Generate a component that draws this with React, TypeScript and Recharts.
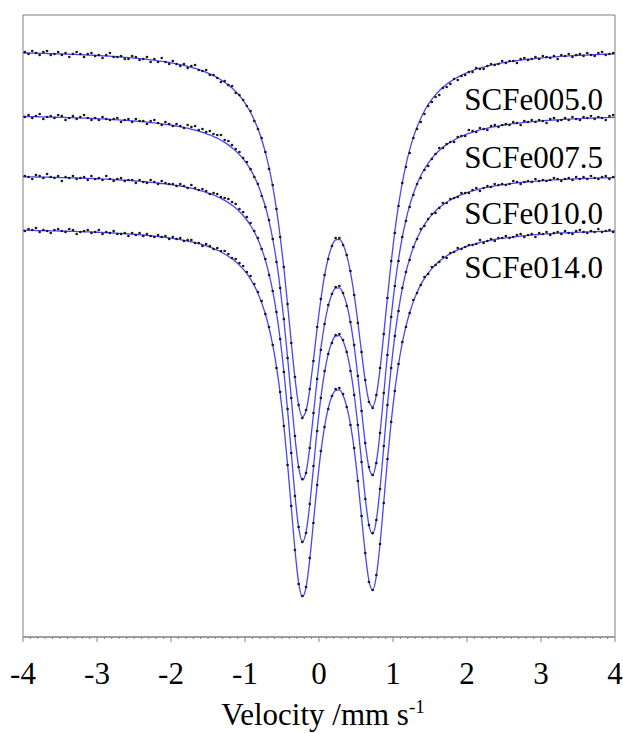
import React from "react";
import {
  ComposedChart,
  Line,
  Scatter,
  XAxis,
  YAxis,
  ReferenceArea,
  Customized,
} from "recharts";

// Mössbauer spectra, stacked with offsets (arbitrary transmission units)
const SAMPLE_NAMES = ["SCFe005.0", "SCFe007.5", "SCFe010.0", "SCFe014.0"];

const MAJOR_TICKS = [-4, -3, -2, -1, 0, 1, 2, 3, 4];
const TICK_LABELS = ["-4", "-3", "-2", "-1", "0", "1", "2", "3", "4"];

// channel velocities (mm/s)
const CHANNEL_VELOCITY = [
  -3.975, -3.925, -3.875, -3.825, -3.775, -3.725, -3.675, -3.625, -3.575, -3.525,
  -3.475, -3.425, -3.375, -3.325, -3.275, -3.225, -3.175, -3.125, -3.075, -3.025,
  -2.975, -2.925, -2.875, -2.825, -2.775, -2.725, -2.675, -2.625, -2.575, -2.525,
  -2.475, -2.425, -2.375, -2.325, -2.275, -2.225, -2.175, -2.125, -2.075, -2.025,
  -1.975, -1.925, -1.875, -1.825, -1.775, -1.725, -1.675, -1.625, -1.575, -1.525,
  -1.475, -1.425, -1.375, -1.325, -1.275, -1.225, -1.175, -1.125, -1.075, -1.025,
  -0.975, -0.925, -0.875, -0.825, -0.775, -0.725, -0.675, -0.625, -0.575, -0.525,
  -0.475, -0.425, -0.375, -0.325, -0.275, -0.225, -0.175, -0.125, -0.075, -0.025,
  0.025, 0.075, 0.125, 0.175, 0.225, 0.275, 0.325, 0.375, 0.425, 0.475,
  0.525, 0.575, 0.625, 0.675, 0.725, 0.775, 0.825, 0.875, 0.925, 0.975,
  1.025, 1.075, 1.125, 1.175, 1.225, 1.275, 1.325, 1.375, 1.425, 1.475,
  1.525, 1.575, 1.625, 1.675, 1.725, 1.775, 1.825, 1.875, 1.925, 1.975,
  2.025, 2.075, 2.125, 2.175, 2.225, 2.275, 2.325, 2.375, 2.425, 2.475,
  2.525, 2.575, 2.625, 2.675, 2.725, 2.775, 2.825, 2.875, 2.925, 2.975,
  3.025, 3.075, 3.125, 3.175, 3.225, 3.275, 3.325, 3.375, 3.425, 3.475,
  3.525, 3.575, 3.625, 3.675, 3.725, 3.775, 3.825, 3.875, 3.925, 3.975,
];

// the fitted curves also run to the frame edges
const FIT_VELOCITY = [-4, ...CHANNEL_VELOCITY, 4];

// ---- SCFe005.0 ----
const FIT_005 = [
  58.41,
  58.40, 58.40, 58.39, 58.38, 58.37, 58.36, 58.35, 58.34, 58.33, 58.31,
  58.30, 58.29, 58.28, 58.26, 58.25, 58.24, 58.22, 58.20, 58.18, 58.16,
  58.15, 58.12, 58.10, 58.08, 58.05, 58.03, 58.00, 57.97, 57.94, 57.92,
  57.88, 57.84, 57.80, 57.76, 57.72, 57.68, 57.62, 57.57, 57.52, 57.46,
  57.39, 57.32, 57.24, 57.16, 57.07, 56.97, 56.87, 56.75, 56.61, 56.47,
  56.31, 56.13, 55.95, 55.72, 55.48, 55.21, 54.90, 54.53, 54.13, 53.66,
  53.10, 52.46, 51.71, 50.82, 49.75, 48.47, 46.93, 45.06, 42.80, 40.09,
  36.90, 33.30, 29.48, 25.90, 23.20, 22.03, 22.63, 24.75, 27.71, 30.88,
  33.75, 36.13, 37.92, 39.11, 39.71, 39.76, 39.25, 38.17, 36.49, 34.23,
  31.48, 28.46, 25.62, 23.59, 23.03, 24.18, 26.81, 30.28, 33.99, 37.48,
  40.58, 43.21, 45.40, 47.22, 48.72, 49.96, 51.00, 51.86, 52.60, 53.23,
  53.76, 54.22, 54.62, 54.97, 55.27, 55.54, 55.78, 55.99, 56.18, 56.35,
  56.51, 56.65, 56.78, 56.89, 56.99, 57.09, 57.18, 57.26, 57.34, 57.41,
  57.48, 57.53, 57.59, 57.64, 57.69, 57.73, 57.78, 57.81, 57.85, 57.89,
  57.92, 57.95, 57.98, 58.01, 58.04, 58.06, 58.08, 58.11, 58.13, 58.15,
  58.17, 58.18, 58.20, 58.22, 58.24, 58.25, 58.27, 58.28, 58.30, 58.31,
  58.32,
];
const COUNTS_005 = [
  58.5, 58.3, 58.6, 58.4, 58.2, 58.5, 58.6, 58.2, 58.3, 58.5,
  58.2, 58.4, 58.0, 58.3, 58.5, 58.3, 58.0, 58.3, 58.4, 58.1,
  58.2, 57.9, 58.2, 58.4, 58.0, 58.0, 58.1, 57.8, 57.8, 58.1,
  58.0, 57.7, 57.8, 58.0, 57.5, 57.8, 57.5, 57.9, 57.5, 57.3,
  57.6, 57.3, 57.1, 57.3, 56.9, 57.1, 57.2, 56.7, 56.6, 56.7,
  56.2, 56.2, 55.9, 55.5, 55.6, 55.2, 55.1, 54.4, 54.2, 53.7,
  53.1, 52.6, 51.6, 50.8, 49.9, 48.5, 46.8, 45.2, 42.8, 40.0,
  37.0, 33.3, 29.4, 26.0, 23.2, 21.9, 22.7, 24.8, 27.6, 31.0,
  33.8, 36.2, 37.8, 39.1, 39.9, 39.9, 39.2, 38.2, 36.6, 34.2,
  31.4, 28.5, 25.7, 23.5, 22.9, 24.2, 26.9, 30.3, 33.9, 37.6,
  40.4, 43.1, 45.4, 47.0, 48.4, 49.9, 50.8, 51.5, 52.3, 53.1,
  53.5, 54.0, 54.2, 54.9, 55.0, 55.3, 55.8, 55.7, 56.1, 56.2,
  56.5, 56.5, 56.9, 56.8, 56.8, 57.1, 57.3, 57.2, 57.3, 57.6,
  57.4, 57.6, 57.6, 57.4, 57.8, 57.9, 57.7, 57.8, 58.0, 57.8,
  58.1, 58.0, 57.9, 58.1, 57.8, 58.2, 58.1, 58.3, 58.0, 58.2,
  58.3, 58.1, 58.4, 58.2, 58.1, 58.4, 58.5, 58.2, 58.3, 58.4,
];

// ---- SCFe007.5 ----
const FIT_075 = [
  52.06,
  52.05, 52.04, 52.03, 52.03, 52.02, 52.01, 52.00, 51.99, 51.98, 51.97,
  51.96, 51.95, 51.94, 51.93, 51.91, 51.90, 51.89, 51.88, 51.86, 51.84,
  51.82, 51.81, 51.79, 51.76, 51.74, 51.72, 51.69, 51.67, 51.65, 51.61,
  51.59, 51.56, 51.53, 51.49, 51.45, 51.41, 51.36, 51.32, 51.27, 51.22,
  51.16, 51.09, 51.03, 50.95, 50.88, 50.78, 50.69, 50.58, 50.47, 50.34,
  50.21, 50.05, 49.88, 49.68, 49.46, 49.21, 48.93, 48.61, 48.24, 47.81,
  47.32, 46.73, 46.05, 45.22, 44.23, 43.05, 41.58, 39.80, 37.62, 34.93,
  31.72, 27.98, 23.91, 19.99, 16.99, 15.70, 16.47, 18.94, 22.30, 25.76,
  28.84, 31.30, 33.12, 34.30, 34.89, 34.92, 34.36, 33.23, 31.47, 29.06,
  26.06, 22.67, 19.37, 16.95, 16.20, 17.48, 20.44, 24.31, 28.32, 32.00,
  35.17, 37.80, 39.96, 41.72, 43.16, 44.33, 45.31, 46.12, 46.80, 47.37,
  47.86, 48.29, 48.65, 48.97, 49.24, 49.49, 49.70, 49.90, 50.07, 50.22,
  50.36, 50.48, 50.60, 50.71, 50.79, 50.88, 50.97, 51.03, 51.11, 51.16,
  51.22, 51.28, 51.33, 51.37, 51.42, 51.46, 51.49, 51.53, 51.57, 51.59,
  51.62, 51.65, 51.67, 51.70, 51.72, 51.74, 51.77, 51.79, 51.81, 51.82,
  51.84, 51.86, 51.87, 51.89, 51.90, 51.92, 51.93, 51.94, 51.95, 51.96,
  51.97,
];
const COUNTS_075 = [
  52.0, 52.2, 51.9, 52.1, 52.3, 51.8, 52.0, 52.1, 51.9, 52.2,
  52.1, 51.7, 51.9, 52.1, 51.8, 52.0, 52.2, 51.9, 51.7, 51.9,
  51.7, 52.0, 51.8, 51.7, 51.8, 51.9, 51.5, 51.7, 51.8, 51.5,
  51.8, 51.6, 51.6, 51.3, 51.6, 51.7, 51.4, 51.2, 51.5, 51.3,
  51.1, 51.3, 51.1, 50.9, 51.2, 51.0, 51.1, 50.7, 50.8, 50.5,
  50.6, 50.3, 50.2, 50.2, 49.7, 49.6, 49.2, 48.8, 48.5, 47.9,
  47.5, 46.8, 46.0, 45.3, 44.1, 43.0, 41.7, 39.8, 37.5, 34.9,
  31.8, 27.9, 23.9, 20.1, 17.0, 15.8, 16.4, 18.9, 22.4, 25.8,
  28.7, 31.3, 33.2, 34.3, 35.0, 35.1, 34.4, 33.1, 31.5, 29.2,
  26.1, 22.6, 19.4, 17.0, 16.2, 17.4, 20.4, 24.4, 28.2, 32.0,
  35.1, 37.6, 40.0, 41.6, 43.0, 44.2, 45.3, 45.9, 46.7, 47.1,
  47.8, 48.3, 48.9, 48.9, 49.3, 49.5, 49.5, 50.0, 50.1, 50.1,
  50.7, 50.6, 50.5, 50.9, 50.8, 50.7, 51.1, 51.2, 51.0, 51.2,
  51.3, 51.2, 51.5, 51.4, 51.2, 51.6, 51.5, 51.7, 51.5, 51.7,
  51.6, 51.4, 51.8, 51.9, 51.6, 51.7, 51.9, 51.7, 52.0, 51.8,
  51.7, 52.0, 51.9, 52.1, 51.8, 52.0, 51.9, 51.7, 52.1, 52.2,
];

// ---- SCFe010.0 ----
const FIT_100 = [
  46.03,
  46.02, 46.02, 46.01, 46.00, 45.99, 45.99, 45.98, 45.97, 45.96, 45.95,
  45.94, 45.93, 45.92, 45.91, 45.90, 45.89, 45.87, 45.86, 45.85, 45.83,
  45.81, 45.80, 45.78, 45.76, 45.75, 45.72, 45.70, 45.68, 45.66, 45.63,
  45.60, 45.58, 45.54, 45.51, 45.47, 45.44, 45.40, 45.35, 45.31, 45.26,
  45.21, 45.16, 45.10, 45.03, 44.95, 44.88, 44.79, 44.69, 44.59, 44.47,
  44.34, 44.20, 44.04, 43.86, 43.66, 43.44, 43.18, 42.89, 42.55, 42.15,
  41.70, 41.15, 40.52, 39.74, 38.81, 37.69, 36.29, 34.58, 32.44, 29.80,
  26.57, 22.73, 18.45, 14.22, 10.93, 9.53, 10.46, 13.26, 16.97, 20.70,
  23.93, 26.46, 28.31, 29.50, 30.10, 30.14, 29.61, 28.48, 26.72, 24.25,
  21.13, 17.52, 13.92, 11.19, 10.30, 11.68, 14.90, 19.03, 23.21, 26.96,
  30.13, 32.72, 34.81, 36.48, 37.84, 38.94, 39.85, 40.60, 41.24, 41.77,
  42.21, 42.60, 42.94, 43.22, 43.48, 43.70, 43.89, 44.07, 44.23, 44.37,
  44.49, 44.61, 44.71, 44.81, 44.89, 44.97, 45.05, 45.11, 45.17, 45.22,
  45.27, 45.33, 45.37, 45.41, 45.45, 45.49, 45.51, 45.55, 45.58, 45.61,
  45.64, 45.66, 45.69, 45.71, 45.73, 45.75, 45.77, 45.78, 45.80, 45.82,
  45.83, 45.85, 45.86, 45.87, 45.89, 45.90, 45.91, 45.92, 45.93, 45.95,
  45.96,
];
const COUNTS_100 = [
  46.1, 46.0, 45.8, 46.2, 46.1, 45.9, 46.3, 46.0, 45.9, 46.1,
  45.6, 46.0, 45.9, 46.1, 45.8, 45.9, 46.0, 45.7, 46.1, 45.8,
  45.9, 45.7, 46.1, 45.8, 45.6, 45.8, 45.9, 45.6, 45.7, 45.7,
  45.4, 45.7, 45.5, 45.4, 45.7, 45.5, 45.3, 45.6, 45.4, 45.3,
  45.3, 45.1, 45.3, 45.1, 44.9, 45.2, 44.9, 44.7, 44.8, 44.6,
  44.3, 44.4, 44.3, 44.0, 43.9, 43.8, 43.5, 43.3, 42.8, 42.5,
  42.0, 41.4, 40.6, 39.9, 38.8, 37.8, 36.2, 34.6, 32.5, 29.8,
  26.5, 22.8, 18.4, 14.1, 11.0, 9.5, 10.4, 13.3, 17.1, 20.6,
  23.9, 26.6, 28.3, 29.4, 30.2, 30.3, 29.7, 28.5, 26.6, 24.2,
  21.2, 17.5, 13.8, 11.2, 10.4, 11.7, 14.8, 19.1, 23.2, 26.9,
  30.1, 32.6, 34.9, 36.5, 37.7, 39.0, 39.8, 40.8, 41.1, 41.8,
  42.3, 42.4, 42.9, 43.4, 43.4, 43.8, 43.9, 44.0, 44.4, 44.4,
  44.4, 44.7, 44.9, 44.6, 44.9, 45.1, 45.0, 45.3, 45.2, 45.3,
  45.2, 45.3, 45.6, 45.5, 45.3, 45.5, 45.6, 45.5, 45.8, 45.6,
  45.7, 45.6, 45.7, 45.9, 45.8, 45.6, 45.8, 45.9, 45.7, 46.0,
  45.8, 46.0, 45.8, 46.1, 45.9, 45.8, 46.0, 46.1, 45.8, 46.0,
];

// ---- SCFe014.0 ----
const FIT_140 = [
  40.68,
  40.67, 40.67, 40.66, 40.65, 40.64, 40.64, 40.63, 40.62, 40.61, 40.60,
  40.59, 40.58, 40.57, 40.56, 40.55, 40.54, 40.52, 40.51, 40.50, 40.48,
  40.46, 40.45, 40.43, 40.41, 40.40, 40.37, 40.35, 40.33, 40.31, 40.28,
  40.25, 40.23, 40.19, 40.16, 40.12, 40.09, 40.05, 40.00, 39.96, 39.91,
  39.86, 39.80, 39.74, 39.67, 39.60, 39.52, 39.44, 39.34, 39.24, 39.12,
  38.99, 38.84, 38.68, 38.50, 38.30, 38.08, 37.82, 37.53, 37.19, 36.78,
  36.33, 35.78, 35.14, 34.36, 33.43, 32.30, 30.90, 29.18, 27.03, 24.38,
  21.14, 17.28, 12.99, 8.74, 5.44, 4.03, 4.96, 7.77, 11.50, 15.24,
  18.48, 21.02, 22.88, 24.07, 24.67, 24.71, 24.18, 23.04, 21.26, 18.77,
  15.62, 11.99, 8.36, 5.61, 4.70, 6.09, 9.33, 13.49, 17.70, 21.48,
  24.67, 27.28, 29.38, 31.06, 32.43, 33.54, 34.46, 35.21, 35.86, 36.39,
  36.84, 37.23, 37.57, 37.85, 38.11, 38.34, 38.53, 38.71, 38.87, 39.01,
  39.13, 39.25, 39.35, 39.45, 39.53, 39.61, 39.69, 39.75, 39.82, 39.87,
  39.92, 39.97, 40.01, 40.05, 40.09, 40.13, 40.16, 40.20, 40.23, 40.25,
  40.28, 40.31, 40.33, 40.35, 40.38, 40.40, 40.41, 40.43, 40.45, 40.46,
  40.48, 40.49, 40.51, 40.52, 40.53, 40.55, 40.56, 40.57, 40.58, 40.60,
  40.61,
];
const COUNTS_140 = [
  40.6, 40.8, 40.7, 40.9, 40.5, 40.7, 40.6, 40.4, 40.7, 40.8,
  40.6, 40.5, 40.8, 40.7, 40.3, 40.5, 40.6, 40.7, 40.4, 40.5,
  40.7, 40.3, 40.5, 40.4, 40.6, 40.3, 40.3, 40.4, 40.1, 40.4,
  40.2, 40.4, 40.1, 40.3, 40.1, 40.0, 40.2, 40.0, 40.1, 39.8,
  40.0, 39.8, 39.9, 39.6, 39.7, 39.7, 39.4, 39.4, 39.1, 39.3,
  39.1, 38.8, 38.9, 38.6, 38.6, 38.3, 37.9, 37.8, 37.4, 37.1,
  36.5, 36.1, 35.3, 34.5, 33.6, 32.3, 31.0, 29.2, 26.9, 24.5,
  21.1, 17.2, 13.1, 8.7, 5.3, 4.1, 5.0, 7.9, 11.4, 15.2,
  18.6, 21.0, 22.8, 24.1, 24.8, 24.9, 24.3, 23.0, 21.2, 18.9,
  15.6, 12.1, 8.4, 5.5, 4.7, 6.2, 9.3, 13.4, 17.8, 21.5,
  24.6, 27.3, 29.5, 31.0, 32.4, 33.7, 34.4, 35.2, 36.0, 36.3,
  37.0, 37.2, 37.5, 38.0, 37.9, 38.4, 38.5, 38.9, 38.8, 39.0,
  39.2, 39.2, 39.3, 39.7, 39.4, 39.6, 39.8, 39.6, 39.9, 39.9,
  40.1, 39.9, 40.0, 40.2, 40.3, 40.0, 40.2, 40.3, 40.0, 40.4,
  40.3, 40.5, 40.2, 40.4, 40.5, 40.3, 40.6, 40.4, 40.3, 40.6,
  40.7, 40.5, 40.4, 40.6, 40.5, 40.8, 40.5, 40.6, 40.7, 40.5,
];

const FITS = [FIT_005, FIT_075, FIT_100, FIT_140];
const COUNTS = [COUNTS_005, COUNTS_075, COUNTS_100, COUNTS_140];

const Y_DOMAIN: [number, number] = [0, 62.2];
const X_DOMAIN: [number, number] = [-4, 4];

// minor ticks every 0.1 mm/s
const MINOR_TICKS = Array.from({ length: 81 }, (_, k) => Math.round(-40 + k) / 10);

const FONT = "'Liberation Serif', 'DejaVu Serif', serif";
const TEXT_STYLE = { fontFamily: FONT };
const GREY = "#808080";
const FIT_BLUE = "#4646fa";

const toPoints = (vs: number[], ys: number[]) => vs.map((v, k) => ({ v, y: ys[k] }));

const SPECTRA = SAMPLE_NAMES.map((name, k) => ({
  name,
  fit: toPoints(FIT_VELOCITY, FITS[k]),
  counts: toPoints(CHANNEL_VELOCITY, COUNTS[k]),
}));

const VelocityTick = (props: any) => {
  const { x, y, payload } = props;
  const v = payload.value;
  const major = Math.abs(v - Math.round(v)) < 1e-6;
  const idx = MAJOR_TICKS.indexOf(Math.round(v));
  return (
    <g>
      <line x1={x} x2={x} y1={y} y2={y + (major ? 5 : 2)} stroke={GREY} strokeWidth={1} />
      {major && idx >= 0 && (
        <text x={x} y={y + 47} textAnchor="middle" fontSize={31} style={TEXT_STYLE} fill="#000">
          {TICK_LABELS[idx]}
        </text>
      )}
    </g>
  );
};

const CountDot = (props: any) => {
  const { cx, cy } = props;
  if (cx == null || cy == null) return <g />;
  return <circle cx={cx} cy={cy} r={1.35} fill="#1a1a1a" />;
};

// sample names at the right, axis title underneath
const LABEL_BASELINES = [110, 168, 224, 278];

const Annotations = () => (
  <g style={TEXT_STYLE}>
    {SAMPLE_NAMES.map((name, k) => (
      <text key={name} x={603} y={LABEL_BASELINES[k]} textAnchor="end" fontSize={31} style={TEXT_STYLE} fill="#000">
        {name}
      </text>
    ))}
    <text x={323} y={725} textAnchor="middle" fontSize={31} style={TEXT_STYLE} fill="#000">
      Velocity /mm s
      <tspan dy={-12} fontSize={19}>-1</tspan>
    </text>
  </g>
);

export default function App() {
  return (
    <div
      style={{
        position: "absolute",
        left: 0,
        top: 0,
        width: 623,
        height: 733,
        background: "#fff",
        fontFamily: FONT,
      }}
    >
      <ComposedChart width={623} height={733} margin={{ top: 15, right: 8, bottom: 26, left: 23 }}>
        <XAxis
          type="number"
          dataKey="v"
          domain={X_DOMAIN}
          ticks={MINOR_TICKS}
          interval={0}
          tickSize={0}
          tickMargin={0}
          tickLine={false}
          axisLine={{ stroke: GREY }}
          tick={<VelocityTick />}
          height={70}
          allowDataOverflow
        />
        <YAxis hide type="number" dataKey="y" domain={Y_DOMAIN} allowDataOverflow />
        <ReferenceArea
          x1={X_DOMAIN[0]}
          x2={X_DOMAIN[1]}
          y1={Y_DOMAIN[0]}
          y2={Y_DOMAIN[1]}
          fill="none"
          stroke={GREY}
          strokeWidth={1}
          ifOverflow="visible"
        />
        {SPECTRA.map((s) => (
          <Line
            key={"fit-" + s.name}
            data={s.fit}
            dataKey="y"
            type="monotone"
            stroke={FIT_BLUE}
            strokeWidth={1.3}
            dot={false}
            activeDot={false}
            isAnimationActive={false}
          />
        ))}
        {SPECTRA.map((s) => (
          <Scatter
            key={"counts-" + s.name}
            data={s.counts}
            dataKey="y"
            shape={<CountDot />}
            isAnimationActive={false}
          />
        ))}
        <Customized component={<Annotations />} />
      </ComposedChart>
    </div>
  );
}
